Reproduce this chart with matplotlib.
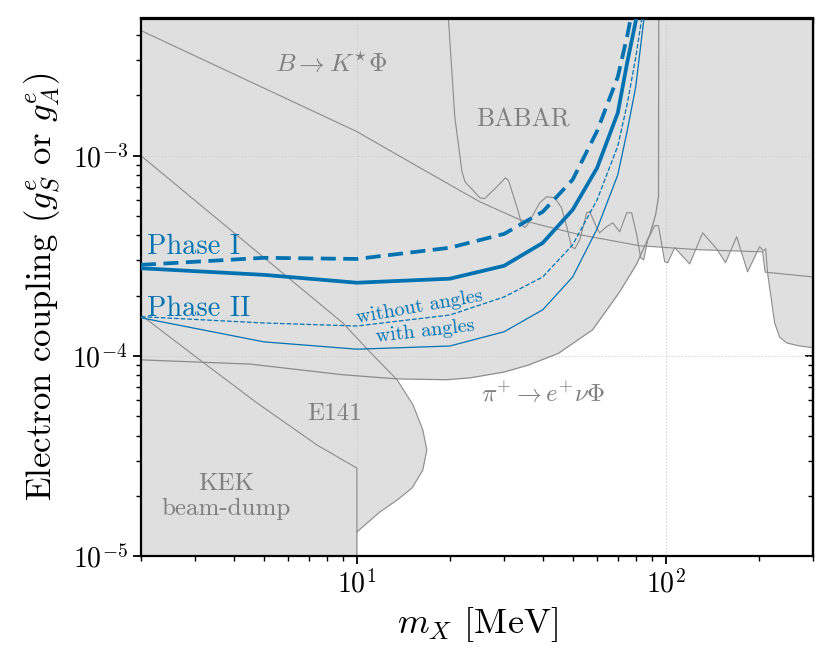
import matplotlib
matplotlib.use("Agg")
import matplotlib.pyplot as plt
from matplotlib.ticker import NullFormatter

plt.rcParams["font.family"] = "serif"
plt.rcParams["font.serif"] = ["cmr10"]
plt.rcParams["mathtext.fontset"] = "cm"
plt.rcParams["axes.formatter.use_mathtext"] = True
plt.rcParams["axes.unicode_minus"] = False

# ---------------- data ----------------
# projected sensitivity curves (m_X in MeV, coupling)
m_phase = [2, 5, 10, 20, 30, 40, 50, 60, 70, 75, 80, 90]
phase1_solid = [2.74e-4, 2.54e-4, 2.32e-4, 2.43e-4, 2.82e-4, 3.67e-4, 5.37e-4, 8.71e-4, 1.64e-3, 2.9e-3, 4.7e-3, 1.5e-2]
phase1_dashed = [2.85e-4, 3.09e-4, 3.05e-4, 3.47e-4, 4.07e-4, 5.25e-4, 7.6e-4, 1.33e-3, 2.48e-3, 3.94e-3, 6.5e-3, 2e-2]
phase2_without = [1.57e-4, 1.46e-4, 1.41e-4, 1.60e-4, 1.97e-4, 2.48e-4, 3.59e-4, 6.03e-4, 1.12e-3, 1.8e-3, 3.1e-3, 1e-2]
phase2_with = [1.55e-4, 1.175e-4, 1.08e-4, 1.12e-4, 1.32e-4, 1.70e-4, 2.48e-4, 4.32e-4, 8.04e-4, 1.32e-3, 2.21e-3, 1e-2]

# B -> K* Phi bound
bk_m = [2, 10, 16.0, 25.0, 33.7, 52.7, 82.4, 128.8, 206, 210, 300]
bk_y = [4.22e-3, 1.32e-3, 8.71e-4, 5.89e-4, 4.79e-4, 4.03e-4, 3.55e-4, 3.39e-4, 3.31e-4, 2.62e-4, 2.48e-4]

# BABAR bound
babar_m = [19.6, 20.0, 20.75, 21.9, 22.4, 23.2, 25.0, 25.9, 28.4, 30.3, 31.0, 33.2, 34.2, 35.0,
           35.7, 39.1, 41.2, 43.7, 46.0, 47.8, 49.6, 50.8, 52.7, 55.5, 56.8, 59.8, 61.1, 64.4,
           67.4, 71.0, 74.8, 77.6, 80.6, 83.0, 84.9, 87.5, 92.1, 94.8, 99.3, 101.5, 107, 119.6,
           131.8, 146.2, 156.3, 169.8, 184.2, 201.4, 207.5, 210.8, 213.8, 218.8, 225.4, 233.9,
           246.6, 271.7, 300]
babar_y = [6e-3, 3.80e-3, 1.57e-3, 8.32e-4, 7.41e-4, 7.0e-4, 6.17e-4, 6.1e-4, 7.0e-4, 7.76e-4,
           7.5e-4, 5.37e-4, 4.52e-4, 4.37e-4, 4.52e-4, 5.82e-4, 6.24e-4, 6.17e-4, 5.5e-4, 4.42e-4,
           3.51e-4, 3.43e-4, 3.80e-4, 5.19e-4, 5.25e-4, 4.37e-4, 4.12e-4, 4.42e-4, 4.62e-4,
           4.17e-4, 5.19e-4, 5.19e-4, 4.03e-4, 3.09e-4, 3.02e-4, 3.80e-4, 4.47e-4, 4.47e-4,
           2.95e-4, 2.92e-4, 3.47e-4, 2.88e-4, 4.12e-4, 3.43e-4, 2.92e-4, 3.94e-4, 2.63e-4,
           3.51e-4, 3.35e-4, 3.43e-4, 2.60e-4, 2.02e-4, 1.46e-4, 1.24e-4, 1.16e-4, 1.12e-4, 1.10e-4]

# pi+ -> e+ nu Phi bound
pi_m = [2, 4.5, 9.0, 13.5, 19.5, 23.2, 30, 36, 45, 58, 71, 80.6, 88.8, 92.8, 94.8, 95]
pi_y = [9.55e-5, 9.1e-5, 8.05e-5, 7.67e-5, 7.6e-5, 7.76e-5, 8.3e-5, 9.0e-5, 1.03e-4, 1.35e-4,
        2.09e-4, 2.88e-4, 4.03e-4, 5.07e-4, 6.24e-4, 6e-3]

# E141 bound
e141_m = [2, 9.01, 11.0, 13.5, 15.2, 16.35, 16.85, 16.35, 15.1, 13.5, 11.87, 10]
e141_y = [1.0e-3, 1.46e-4, 1.05e-4, 7.59e-5, 5.69e-5, 4.27e-5, 3.39e-5, 2.69e-5, 2.19e-5,
          1.905e-5, 1.66e-5, 1.32e-5]

# KEK beam-dump bound
kek_m = [2, 3.1, 4.75, 7.42, 10, 10]
kek_y = [1.6e-4, 9.55e-5, 5.82e-5, 3.59e-5, 2.75e-5, 1e-6]

XMIN, XMAX = 2, 300
YMIN, YMAX = 1e-5, 4.85e-3

# ---------------- style ----------------
FILL = "#dfdfdf"
EDGE = "#8c8c8c"
BLUE = "#0072B2"
TXT = "#7f7f7f"

fig = plt.figure(figsize=(8.32, 6.63), dpi=100)
ax = fig.add_axes([141 / 832, 1 - 556 / 663, (813 - 141) / 832, (556 - 18.5) / 663])
ax.set_xscale("log")
ax.set_yscale("log")
ax.set_xlim(XMIN, XMAX)
ax.set_ylim(YMIN, YMAX)

# filled excluded regions
ax.fill_between(bk_m, bk_y, 1, color=FILL, lw=0, zorder=1)
ax.fill_between(babar_m, babar_y, 1, color=FILL, lw=0, zorder=1)
ax.fill_between(pi_m, pi_y, 1, color=FILL, lw=0, zorder=1)
ax.fill_betweenx(e141_y, 1, e141_m, color=FILL, lw=0, zorder=1)
ax.fill_between(kek_m, 1e-7, kek_y, color=FILL, lw=0, zorder=1)

# outlines
ax.plot(bk_m, bk_y, color=EDGE, lw=0.8, zorder=2)
ax.plot(babar_m, babar_y, color=EDGE, lw=0.8, zorder=2)
ax.plot(pi_m, pi_y, color=EDGE, lw=0.9, zorder=2)
ax.plot(e141_m, e141_y, color=EDGE, lw=0.8, zorder=2)
ax.plot(kek_m, kek_y, color=EDGE, lw=0.8, zorder=2)

# sensitivity curves
ax.plot(m_phase, phase1_dashed, color=BLUE, lw=2.7, ls=(0, (4, 2)), zorder=3)
ax.plot(m_phase, phase1_solid, color=BLUE, lw=2.7, zorder=3)
ax.plot(m_phase, phase2_without, color=BLUE, lw=0.9, ls="--", zorder=3)
ax.plot(m_phase, phase2_with, color=BLUE, lw=0.9, zorder=3)

# grid
ax.grid(True, which="major", color="0.80", ls=(0, (2, 2)), lw=0.6)

# labels in plot
ax.text(8.28, 2.63e-3, r"$B \to K^{\star}\Phi$", color=TXT, fontsize=18.5, ha="center", va="baseline")
ax.text(34.5, 1.40e-3, "BABAR", color=TXT, fontsize=18.5, ha="center", va="baseline")
ax.text(8.49, 4.79e-5, "E141", color=TXT, fontsize=18, ha="center", va="baseline")
ax.text(40, 5.89e-5, r"$\pi^{+} \to e^{+}\nu\Phi$", color=TXT, fontsize=18, ha="center", va="baseline")
ax.text(3.77, 2.14e-5, "KEK", color=TXT, fontsize=18, ha="center", va="baseline")
ax.text(3.77, 1.60e-5, "beam-dump", color=TXT, fontsize=18, ha="center", va="baseline")
ax.text(2.09, 3.24e-4, "Phase I", color=BLUE, fontsize=20.5, ha="left", va="baseline", zorder=4)
ax.text(2.09, 1.58e-4, "Phase II", color=BLUE, fontsize=20.5, ha="left", va="baseline", zorder=4)
ax.text(16.0, 1.76e-4, "without angles", color=BLUE, fontsize=14.5, ha="center", va="center",
        rotation=10, rotation_mode="anchor", zorder=4)
ax.text(16.6, 1.32e-4, "with angles", color=BLUE, fontsize=14.5, ha="center", va="center",
        rotation=6.6, rotation_mode="anchor", zorder=4)

ax.set_xlabel(r"$m_X$ [MeV]", fontsize=26, labelpad=5)
ax.set_ylabel(r"Electron coupling ($g_S^e$ or $g_A^e$)", fontsize=25, labelpad=7)

for s in ax.spines.values():
    s.set_linewidth(1.6)
ax.tick_params(which="major", direction="out", length=6, width=1.3, labelsize=20)
ax.tick_params(which="minor", direction="out", length=3.5, width=1.0)

secx = ax.secondary_xaxis("top")
secx.tick_params(which="major", direction="in", length=6, width=1.3)
secx.tick_params(which="minor", direction="in", length=3.5, width=1.0)
secx.xaxis.set_major_formatter(NullFormatter())
secx.xaxis.set_minor_formatter(NullFormatter())
secy = ax.secondary_yaxis("right")
secy.tick_params(which="major", direction="in", length=6, width=1.3)
secy.tick_params(which="minor", direction="in", length=3.5, width=1.0)
secy.yaxis.set_major_formatter(NullFormatter())
secy.yaxis.set_minor_formatter(NullFormatter())
for sa in (secx, secy):
    for s in sa.spines.values():
        s.set_linewidth(1.6)

fig.savefig("out.png", dpi=100)
